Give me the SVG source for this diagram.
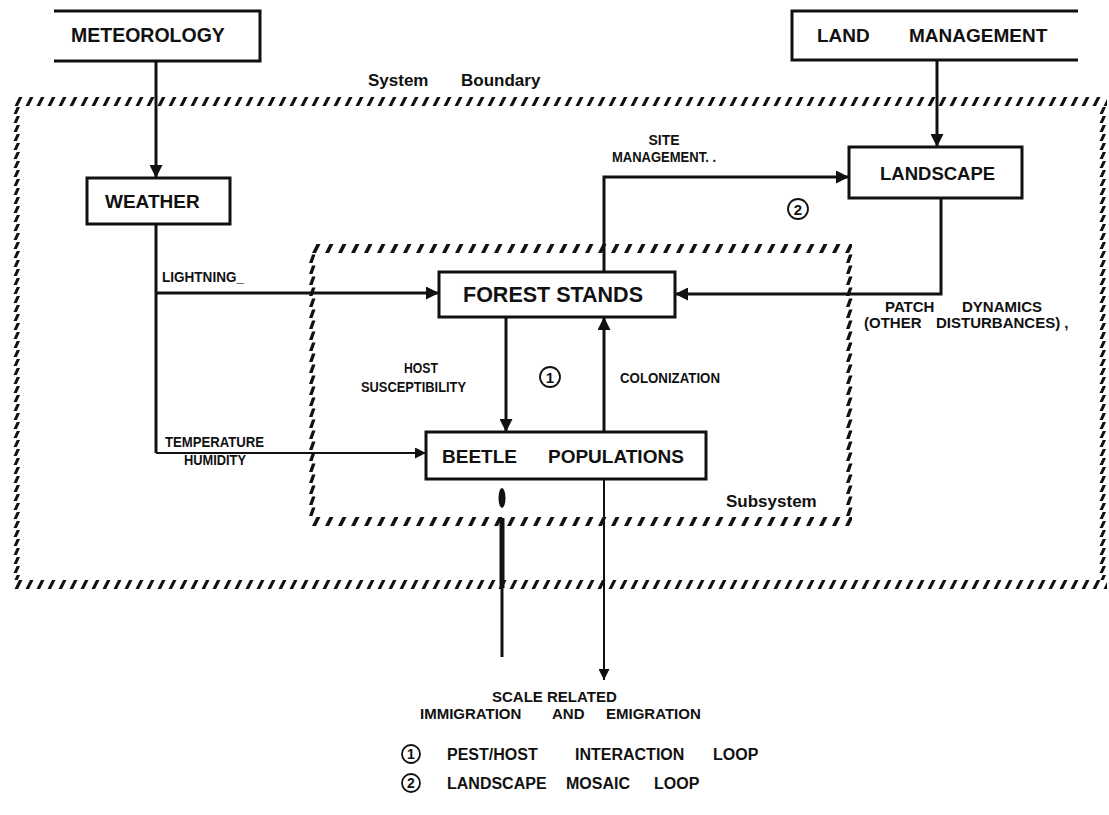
<svg xmlns="http://www.w3.org/2000/svg" width="1109" height="815" viewBox="0 0 1109 815">
<style>
.t{font-family:"Liberation Sans",Arial,sans-serif;font-weight:bold;fill:#111}
.big{font-size:19px}
.mid{font-size:15px}
.sm{font-size:14px}
.box{fill:none;stroke:#111;stroke-width:3}
.ln{fill:none;stroke:#111;stroke-width:3}
.thin{fill:none;stroke:#111;stroke-width:2}
.circ{fill:none;stroke:#111;stroke-width:1.8}
</style>
<defs>
<pattern id="hsysH" width="11" height="9" patternUnits="userSpaceOnUse"><polygon points="1.5,9 5,9 9.5,0 6,0" fill="#111"/></pattern>
<pattern id="hsysV" width="9" height="9" patternUnits="userSpaceOnUse"><polygon points="1.5,8 4.8,8 8,1 4.7,1" fill="#111"/></pattern>
<pattern id="hsubH" width="13" height="9" patternUnits="userSpaceOnUse"><polygon points="2,9 6,9 10.5,0 6.5,0" fill="#111"/></pattern>
<pattern id="hsubV" width="10" height="11" patternUnits="userSpaceOnUse"><polygon points="2,10 5.5,10 8.5,1.5 5,1.5" fill="#111"/></pattern>
<marker id="ah" viewBox="0 0 10 10" refX="10" refY="5" markerWidth="17" markerHeight="13" markerUnits="userSpaceOnUse" orient="auto"><path d="M0 0 L10 5 L0 10 Z" fill="#111"/></marker>
<marker id="ahs" viewBox="0 0 10 10" refX="10" refY="5" markerWidth="12" markerHeight="11" markerUnits="userSpaceOnUse" orient="auto"><path d="M0 0 L10 5 L0 10 Z" fill="#111"/></marker>
</defs>

<g id="system-boundary">
<rect x="0" y="0" width="1094" height="9" fill="url(#hsysH)" transform="translate(13,97)"/>
<rect x="0" y="0" width="1094" height="9" fill="url(#hsysH)" transform="translate(13,580)"/>
<rect x="0" y="0" width="9" height="474" fill="url(#hsysV)" transform="translate(12,106)"/>
<rect x="0" y="0" width="9" height="474" fill="url(#hsysV)" transform="translate(1098,106)"/>
<text class="t" x="368" y="86" font-size="17">System</text>
<text class="t" x="461" y="86" font-size="17">Boundary</text>
</g>

<g id="subsystem">
<rect x="0" y="0" width="542" height="9" fill="url(#hsubH)" transform="translate(310,244)"/>
<rect x="0" y="0" width="542" height="9" fill="url(#hsubH)" transform="translate(310,517)"/>
<rect x="0" y="0" width="10" height="264" fill="url(#hsubV)" transform="translate(307,253)"/>
<rect x="0" y="0" width="10" height="264" fill="url(#hsubV)" transform="translate(844,253)"/>
<text class="t" x="726" y="507" font-size="17">Subsystem</text>
</g>

<g id="meteorology">
<path class="box" d="M54 11 H260 V61 H54"/>
<text class="t" font-size="19.5" x="71" y="42">METEOROLOGY</text>
</g>

<g id="land-management">
<path class="box" d="M1078 11 H792 V60 H1078"/>
<text class="t big" x="817" y="42">LAND</text>
<text class="t big" x="909" y="42">MANAGEMENT</text>
</g>

<g id="weather">
<rect class="box" x="87" y="178" width="143" height="46"/>
<text class="t big" x="105" y="208">WEATHER</text>
</g>

<g id="landscape">
<rect class="box" x="849" y="147" width="173" height="51"/>
<text class="t" font-size="18.5" x="880" y="180">LANDSCAPE</text>
</g>

<g id="forest-stands">
<rect class="box" x="439" y="272" width="236" height="45"/>
<text class="t" font-size="21.5" x="463" y="302">FOREST STANDS</text>
</g>

<g id="beetle-populations">
<rect class="box" x="426" y="432" width="280" height="47"/>
<text class="t big" x="442" y="463">BEETLE</text>
<text class="t big" x="548" y="463">POPULATIONS</text>
</g>

<g id="connectors">
<line class="ln" x1="156" y1="61" x2="156" y2="178" marker-end="url(#ah)"/>
<line class="ln" x1="937" y1="60" x2="937" y2="147" marker-end="url(#ah)"/>
<path class="ln" d="M156 224 V453"/>
<line class="thin" x1="156" y1="453" x2="426" y2="453" marker-end="url(#ahs)"/>
<line class="ln" x1="156" y1="293" x2="439" y2="293" marker-end="url(#ah)"/>
<path class="ln" d="M604 272 V177 H849" marker-end="url(#ah)"/>
<path class="ln" d="M941 198 V294 H675" marker-end="url(#ah)"/>
<line class="ln" x1="506" y1="317" x2="506" y2="432" marker-end="url(#ah)"/>
<line class="ln" x1="604" y1="432" x2="604" y2="317" marker-end="url(#ah)" stroke-width="3.5"/>
<line class="thin" x1="604" y1="479" x2="604" y2="680" stroke-width="2.5" marker-end="url(#ahs)"/>
<ellipse cx="502" cy="498" rx="3.5" ry="10" fill="#111"/>
<line x1="502" y1="518" x2="502" y2="588" stroke="#111" stroke-width="5"/>
<line x1="502" y1="588" x2="502" y2="657" stroke="#111" stroke-width="3"/>
</g>

<g id="labels">
<text class="t sm" x="162" y="282" textLength="82" lengthAdjust="spacingAndGlyphs">LIGHTNING_</text>
<text class="t sm" x="664" y="145" text-anchor="middle">SITE</text>
<text class="t sm" x="612" y="162" textLength="104" lengthAdjust="spacingAndGlyphs">MANAGEMENT. .</text>
<text class="t mid" x="885" y="312">PATCH</text>
<text class="t mid" x="962" y="312">DYNAMICS</text>
<text class="t mid" x="864" y="328">(OTHER</text>
<text class="t mid" x="936" y="328">DISTURBANCES) ,</text>
<text class="t sm" x="421" y="373" text-anchor="middle" textLength="34" lengthAdjust="spacingAndGlyphs">HOST</text>
<text class="t sm" x="361" y="392" textLength="105" lengthAdjust="spacingAndGlyphs">SUSCEPTIBILITY</text>
<text class="t sm" x="620" y="383" textLength="100" lengthAdjust="spacingAndGlyphs">COLONIZATION</text>
<text class="t sm" x="165" y="447" textLength="99" lengthAdjust="spacingAndGlyphs">TEMPERATURE</text>
<text class="t sm" x="184" y="465" textLength="62" lengthAdjust="spacingAndGlyphs">HUMIDITY</text>
<circle class="circ" cx="550" cy="377" r="10"/>
<text class="t" font-size="15" x="550" y="382.5" text-anchor="middle">1</text>
<circle class="circ" cx="798" cy="209" r="10"/>
<text class="t" font-size="15" x="798" y="214.5" text-anchor="middle">2</text>
</g>

<g id="footer">
<text class="t mid" x="492" y="702">SCALE RELATED</text>
<text class="t mid" x="420" y="719">IMMIGRATION</text>
<text class="t mid" x="552" y="719">AND</text>
<text class="t mid" x="606" y="719">EMIGRATION</text>
</g>

<g id="legend">
<circle class="circ" cx="411" cy="754" r="9"/>
<text class="t" font-size="14" x="411" y="759" text-anchor="middle" font-weight="normal">1</text>
<text class="t" font-size="16" x="447" y="760">PEST/HOST</text>
<text class="t" font-size="16" x="575" y="760">INTERACTION</text>
<text class="t" font-size="16" x="713" y="760">LOOP</text>
<circle class="circ" cx="411" cy="783" r="9"/>
<text class="t" font-size="14" x="411" y="788" text-anchor="middle" font-weight="normal">2</text>
<text class="t" font-size="16" x="447" y="789">LANDSCAPE</text>
<text class="t" font-size="16" x="566" y="789">MOSAIC</text>
<text class="t" font-size="16" x="654" y="789">LOOP</text>
</g>
</svg>
